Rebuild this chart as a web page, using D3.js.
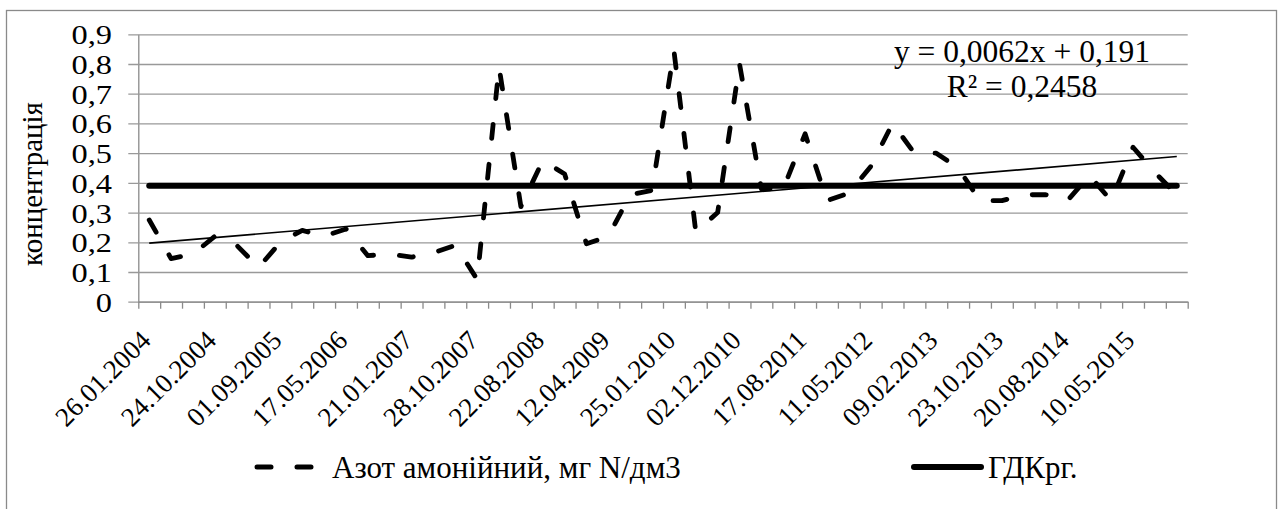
<!DOCTYPE html>
<html>
<head>
<meta charset="utf-8">
<script src="https://cdn.jsdelivr.net/npm/d3@7"></script>
<style>
  html, body { margin: 0; padding: 0; background: #fff; }
  svg { display: block; }
  text { font-family: "Liberation Serif", "Times New Roman", serif; fill: #000; }
</style>
</head>
<body>
<div id="chart"></div>
<script>
// Ammonium nitrogen concentration, 48 samples (2004–2015)
const ammonium = [
  0.275, 0.145, 0.16, 0.22, 0.19, 0.115, 0.20, 0.24, 0.22, 0.245,
  0.155, 0.16, 0.15, 0.165, 0.19, 0.075, 0.79, 0.32, 0.475, 0.43,
  0.195, 0.22, 0.36, 0.375, 0.845, 0.235, 0.30, 0.80, 0.38, 0.38,
  0.565, 0.34, 0.365, 0.455, 0.60, 0.50, 0.50, 0.45, 0.34, 0.34,
  0.36, 0.36, 0.34, 0.425, 0.34, 0.52, 0.435, 0.36
];
// Maximum permissible concentration (ГДК) for fishery waters
const limitValue = 0.39;
// Linear trend of the series
const trendSlope = 0.0062;
const trendIntercept = 0.191;
const trendEquation = "y = 0,0062x + 0,191";
const trendR2 = "R² = 0,2458";
// Dates printed under every third sample
const tickDates = [
  "26.01.2004", "24.10.2004", "01.09.2005", "17.05.2006", "21.01.2007", "28.10.2007",
  "22.08.2008", "12.04.2009", "25.01.2010", "02.12.2010", "17.08.2011", "11.05.2012",
  "09.02.2013", "23.10.2013", "20.08.2014", "10.05.2015"
];
const yTicks = [0, 0.1, 0.2, 0.3, 0.4, 0.5, 0.6, 0.7, 0.8, 0.9];
const seriesName = "Азот амонійний, мг N/дм3";
const limitName = "ГДКрг.";
const yTitle = "концентрація";

const W = 1284, H = 509;
const plot = { left: 138.3, right: 1187.7, top: 34.3, bottom: 301.7 };

const svg = d3.select("#chart").append("svg")
  .attr("width", W).attr("height", H);

// chart frame
svg.append("rect")
  .attr("x", 6.5).attr("y", 10.5).attr("width", 1270).attr("height", 520)
  .attr("fill", "none").attr("stroke", "#8a8a8a").attr("stroke-width", 1.3);

const idx = d3.range(ammonium.length);
const x = d3.scaleBand().domain(idx).range([plot.left, plot.right]).padding(0);
const cx = i => x(i) + x.bandwidth() / 2;
const y = d3.scaleLinear().domain([0, 0.9]).range([plot.bottom, plot.top]);

// horizontal gridlines with left tick marks
const yAxis = d3.axisLeft(y).tickValues(yTicks)
  .tickSize(-(plot.right - plot.left)).tickSizeOuter(0).tickFormat("");
const gy = svg.append("g").attr("transform", `translate(${plot.left},0)`).call(yAxis);
gy.select(".domain").attr("stroke", "#8a8a8a").attr("stroke-width", 1.3);
gy.selectAll(".tick line").attr("stroke", "#999").attr("stroke-width", 1.3)
  .attr("x1", -10);

// y tick labels
svg.append("g").selectAll("text").data(yTicks).join("text")
  .attr("transform", d => `translate(112,${y(d) + 10}) scale(1.2,1)`)
  .attr("text-anchor", "end")
  .attr("font-size", 27)
  .text(d => d3.format(".1f")(d).replace(".", ",").replace(/^0,0$/, "0"));

// x axis: ticks on category boundaries
const bounds = d3.range(ammonium.length + 1);
const xb = d3.scaleLinear().domain([0, ammonium.length]).range([plot.left, plot.right]);
const xAxis = d3.axisBottom(xb).tickValues(bounds).tickSize(7).tickSizeOuter(0).tickFormat("");
const gx = svg.append("g").attr("transform", `translate(0,${plot.bottom})`).call(xAxis);
gx.select(".domain").attr("stroke", "#8a8a8a").attr("stroke-width", 1.3);
gx.selectAll(".tick line").attr("stroke", "#8a8a8a").attr("stroke-width", 1.3);

// rotated date labels under every third sample
svg.append("g").selectAll("text").data(tickDates).join("text")
  .attr("transform", (d, k) => `translate(${cx(k * 3) + 3},342) rotate(-45)`)
  .attr("text-anchor", "end")
  .attr("font-size", 27)
  .text(d => d);

// y axis title
svg.append("text")
  .attr("transform", `translate(42,184) rotate(-90)`)
  .attr("text-anchor", "middle")
  .attr("font-size", 29)
  .text(yTitle);

// limit line
const limitLine = d3.line().x((d, i) => cx(i)).y(() => y(limitValue));
svg.append("path").datum(idx)
  .attr("d", limitLine)
  .attr("fill", "none").attr("stroke", "#000").attr("stroke-width", 6)
  .attr("stroke-linecap", "round");

// linear trend line
const trendPts = [0, ammonium.length - 1].map(i => [cx(i), y(trendSlope * (i + 1) + trendIntercept)]);
svg.append("path")
  .attr("d", d3.line()(trendPts))
  .attr("fill", "none").attr("stroke", "#000").attr("stroke-width", 1.6);

// ammonium series, dashed
const seriesLine = d3.line().x((d, i) => cx(i)).y(d => y(d));
svg.append("path").datum(ammonium)
  .attr("d", seriesLine)
  .attr("fill", "none").attr("stroke", "#000").attr("stroke-width", 4.8)
  .attr("stroke-dasharray", "14 26").attr("stroke-linecap", "round")
  .attr("stroke-linejoin", "round");

// trend equation
const eq = svg.append("text").attr("text-anchor", "middle").attr("font-size", 31.5);
eq.append("tspan").attr("x", 1022).attr("y", 62).text(trendEquation);
eq.append("tspan").attr("x", 1022).attr("y", 97).text(trendR2);

// legend
const lg = svg.append("g");
lg.append("line").attr("x1", 257).attr("x2", 315).attr("y1", 467).attr("y2", 467)
  .attr("stroke", "#000").attr("stroke-width", 5)
  .attr("stroke-dasharray", "14 26").attr("stroke-linecap", "round");
lg.append("text").attr("x", 332).attr("y", 478).attr("font-size", 31).text(seriesName);
lg.append("line").attr("x1", 914).attr("x2", 981).attr("y1", 467).attr("y2", 467)
  .attr("stroke", "#000").attr("stroke-width", 6).attr("stroke-linecap", "round");
lg.append("text").attr("x", 988).attr("y", 478).attr("font-size", 31).text(limitName);
</script>
</body>
</html>
